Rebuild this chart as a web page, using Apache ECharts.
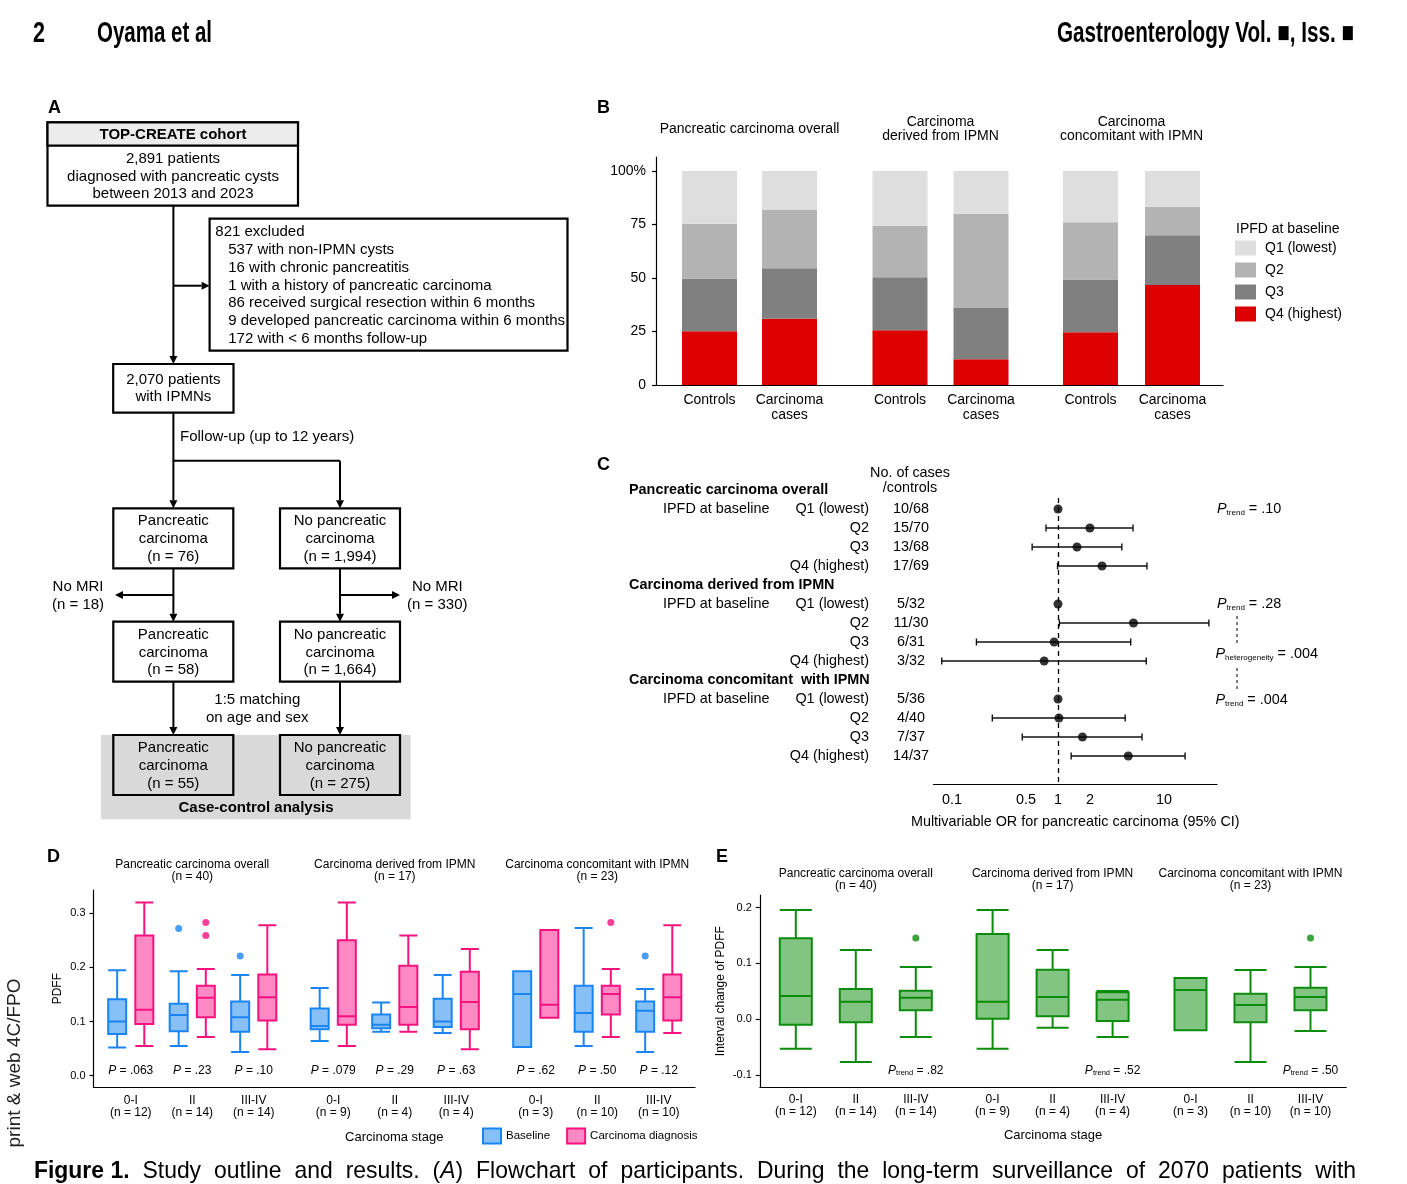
<!DOCTYPE html>
<html><head><meta charset="utf-8">
<script src="https://cdn.jsdelivr.net/npm/echarts@6/dist/echarts.min.js"></script>
<style>html,body{margin:0;padding:0;background:#fff}#c{width:1407px;height:1184px}</style>
</head><body><div id="c"></div>
<script>
// ---------------- DATA ----------------
// Panel B: share (%) of IPFD quartiles, per group: [Controls, Carcinoma cases]
const bGroups = ['Pancreatic carcinoma overall', 'Carcinoma\nderived from IPMN', 'Carcinoma\nconcomitant with IPMN'];
const bCategories = ['Controls', 'Carcinoma\ncases'];
const bQuartiles = ['Q1 (lowest)', 'Q2', 'Q3', 'Q4 (highest)'];
const bQ1 = [[24.7, 18.2], [25.6, 20.0], [24.0, 16.7]];
const bQ2 = [[25.5, 27.3], [24.0, 44.0], [26.7, 13.3]];
const bQ3 = [[24.7, 23.6], [24.8, 24.0], [24.7, 23.3]];
const bQ4 = [[25.1, 30.9], [25.6, 12.0], [24.6, 46.7]];
const bTicks = [0, 25, 50, 75, 100];

// Panel C: forest plot
const cGroups = ['Pancreatic carcinoma overall', 'Carcinoma derived from IPMN', 'Carcinoma concomitant  with IPMN'];
const cQuartiles = ['Q1 (lowest)', 'Q2', 'Q3', 'Q4 (highest)'];
const cCounts = [['10/68', '15/70', '13/68', '17/69'], ['5/32', '11/30', '6/31', '3/32'], ['5/36', '4/40', '7/37', '14/37']];
const cOR = [[1, 2.0, 1.51, 2.6], [1, 5.15, 0.92, 0.74], [1, 1.02, 1.7, 4.6]];
const cLow = [[null, 0.77, 0.57, 0.99], [null, 1.03, 0.17, 0.08], [null, 0.24, 0.46, 1.33]];
const cHigh = [[null, 5.1, 4.0, 6.9], [null, 26.5, 4.85, 6.8], [null, 4.3, 6.2, 15.8]];
const cTicks = [0.1, 0.5, 1, 2, 10];
const cPtrend = ['.10', '.28', '.004'];
const cPhet = '.004';

// Panels D/E
const deTitles = ['Pancreatic carcinoma overall', 'Carcinoma derived from IPMN', 'Carcinoma concomitant with IPMN'];
const deGroupN = [40, 17, 23];
const stageNames = ['0-I', 'II', 'III-IV'];
const stageN = [[12, 14, 14], [9, 4, 4], [3, 10, 10]];
// [min, Q1, median, Q3, max]
const dBaseline = [
  [[0.052, 0.077, 0.100, 0.141, 0.195], [0.055, 0.082, 0.112, 0.133, 0.193], [0.044, 0.081, 0.108, 0.137, 0.186]],
  [[0.064, 0.0856, 0.092, 0.124, 0.162], [0.081, 0.0875, 0.094, 0.113, 0.135], [0.079, 0.090, 0.100, 0.142, 0.186]],
  [[0.053, 0.053, 0.151, 0.193, 0.193], [0.055, 0.081, 0.116, 0.166, 0.273], [0.044, 0.081, 0.120, 0.137, 0.160]]
];
const dDiagnosis = [
  [[0.055, 0.0955, 0.122, 0.259, 0.320], [0.0715, 0.108, 0.144, 0.166, 0.197], [0.049, 0.102, 0.145, 0.187, 0.278]],
  [[0.055, 0.094, 0.110, 0.250, 0.320], [0.081, 0.094, 0.127, 0.203, 0.259], [0.049, 0.086, 0.136, 0.192, 0.234]],
  [[0.107, 0.107, 0.131, 0.269, 0.269], [0.0715, 0.113, 0.151, 0.166, 0.197], [0.079, 0.102, 0.145, 0.187, 0.278]]
];
const dBaselineOutliers = [[[1, 0.272], [2, 0.221]], [], [[2, 0.221]]];
const dDiagnosisOutliers = [[[1, 0.283], [1, 0.259]], [], [[1, 0.283]]];
const dP = [['.063', '.23', '.10'], ['.079', '.29', '.63'], ['.62', '.50', '.12']];
const dTicks = [0, 0.1, 0.2, 0.3];

const eChange = [
  [[-0.0525, -0.0095, 0.0417, 0.145, 0.1956], [-0.0763, -0.0054, 0.0316, 0.0543, 0.124], [-0.0316, 0.0161, 0.0388, 0.0513, 0.0936]],
  [[-0.0525, 0.0012, 0.0316, 0.1527, 0.1956], [-0.0149, 0.0054, 0.040, 0.0888, 0.124], [-0.0316, -0.003, 0.0352, 0.0483, 0.0507]],
  [[-0.0197, -0.0197, 0.0525, 0.074, 0.074], [-0.0763, -0.0054, 0.0256, 0.0459, 0.0883], [-0.0209, 0.0161, 0.040, 0.0566, 0.0936]]
];
const eOutliers = [[[2, 0.1455]], [], [[2, 0.1455]]];
const ePtrend = ['.82', '.52', '.50'];
const eTicks = [-0.1, 0, 0.1, 0.2];

// ---------------- STYLE / LAYOUT ----------------
const FONT = '"Liberation Sans", Arial, Helvetica, sans-serif';
const BLACK = '#000';
const QCOL = ['#dedede', '#b3b3b3', '#808080', '#dc0000'];
const BLUE = '#1a84f2', BLUE_F = '#86c0f7';
const PINK = '#f5127f', PINK_F = '#ff89c4';
const GREEN = '#0c8c0c', GREEN_F = '#82c482';
const AX = {color: BLACK, width: 1.2};
const B_MAX = 106.54, D_MIN = -0.0214, D_MAX = 0.343, E_MIN = -0.1216, E_MAX = 0.2224;
const FA = 15, FB = 14, FC = 14.4, FD = 12;

const grids = [], xAxes = [], yAxes = [], series = [], G = [];
function addGrid(g) { grids.push(Object.assign({outerBoundsMode: 'none', containLabel: false}, g)); return grids.length - 1; }
function addX(a) { xAxes.push(a); return xAxes.length - 1; }
function addY(a) { yAxes.push(a); return yAxes.length - 1; }
const noSplit = {show: false};
function hiddenY(gi, min, max) { return addY({gridIndex: gi, type: 'value', min, max, show: false, splitLine: noSplit}); }
function frameX(gi) {
  return {gridIndex: gi, type: 'value', min: 0, max: 1, axisLine: {show: true, onZero: false, lineStyle: AX},
    axisTick: {show: false}, axisLabel: {show: false}, splitLine: noSplit};
}
const mctx = document.createElement('canvas').getContext('2d');
function measure(t, size, weight) { mctx.font = (weight || 'normal') + ' ' + size + 'px ' + FONT; return mctx.measureText(t).width; }

function txt(x, y, text, o, extra) {
  G.push(Object.assign({type: 'text', x, y, silent: true, style: Object.assign({text, fill: BLACK, fontSize: FA, fontFamily: FONT,
    align: 'left', verticalAlign: 'middle'}, o || {})}, extra || {}));
}
function rect(x1, y1, x2, y2, fill, lw, stroke) {
  G.push({type: 'rect', silent: true, shape: {x: x1, y: y1, width: x2 - x1, height: y2 - y1},
    style: {fill: fill || '#fff', stroke: stroke === undefined ? BLACK : stroke, lineWidth: lw === undefined ? 2.2 : lw}});
}
function seg(pts, lw, dash) {
  G.push({type: 'polyline', silent: true, shape: {points: pts}, style: {stroke: BLACK, lineWidth: lw || 2, fill: null, lineDash: dash || null}});
}
function arrow(x1, y1, x2, y2) {
  const L = 8, W = 4; let pts, end;
  if (x1 === x2) { const d = y2 > y1 ? 1 : -1; end = [x2, y2 - d * L]; pts = [[x2, y2], [x2 - W, y2 - d * L], [x2 + W, y2 - d * L]]; }
  else { const d = x2 > x1 ? 1 : -1; end = [x2 - d * L, y2]; pts = [[x2, y2], [x2 - d * L, y2 - W], [x2 - d * L, y2 + W]]; }
  seg([[x1, y1], end]);
  G.push({type: 'polygon', silent: true, shape: {points: pts}, style: {fill: BLACK}});
}
// condensed text: fit a string into a given width by horizontal scaling
function fitTxt(x, y, text, size, weight, width, align) {
  const s = width / measure(text, size, weight);
  txt(x, y, text, {fontSize: size, fontWeight: weight, align: align || 'left'}, {scaleX: s});
}

// ---------------- HEADER / LABELS ----------------
fitTxt(33, 34, '2', 29, 'bold', 12);
fitTxt(97, 34, 'Oyama et al', 29, 'bold', 115);
fitTxt(1354, 34, 'Gastroenterology Vol. \u25A0, Iss. \u25A0', 29, 'bold', 297, 'right');
[['A', 48, 108], ['B', 597, 108], ['C', 597, 465], ['D', 47, 857], ['E', 716, 857]].forEach(l =>
  txt(l[1], l[2], l[0], {fontSize: 18, fontWeight: 'bold'}));
G.push({type: 'text', x: 15, y: 1063, rotation: Math.PI / 2, silent: true,
  style: {text: 'print & web 4C/FPO', fontSize: 19, fontFamily: FONT, fill: '#222', align: 'center', verticalAlign: 'middle'}});

// ---------------- PANEL A (flowchart) ----------------
const cxL = 173.4, cxR = 340;
rect(47.5, 122.3, 298, 205.7, '#fff');
rect(47.5, 122.3, 298, 145.7, '#ececec');
txt(173, 134.5, 'TOP-CREATE cohort', {fontWeight: 'bold', align: 'center'});
['2,891 patients', 'diagnosed with pancreatic cysts', 'between 2013 and 2023'].forEach((t, i) =>
  txt(173, 159 + i * 17.5, t, {align: 'center'}));
arrow(cxL, 205.7, cxL, 364);
arrow(cxL, 285.7, 209.6, 285.7);
rect(209.6, 218.7, 567.5, 350.7, '#fff');
txt(215.3, 232.3, '821 excluded');
['537 with non-IPMN cysts', '16 with chronic pancreatitis', '1 with a history of pancreatic carcinoma',
 '86 received surgical resection within 6 months', '9 developed pancreatic carcinoma within 6 months',
 '172 with < 6 months follow-up'].forEach((t, i) => txt(228.2, 250 + i * 17.75, t));
rect(113.2, 364, 233.5, 412.7, '#fff');
txt(173.3, 380, '2,070 patients', {align: 'center'});
txt(173.3, 397.3, 'with IPMNs', {align: 'center'});
seg([[cxL, 412.7], [cxL, 460.7], [cxR, 460.7]]);
txt(180, 437, 'Follow-up (up to 12 years)');
arrow(cxL, 460.7, cxL, 508.3);
arrow(cxR, 460.7, cxR, 508.3);
function box3(x1, y1, lines, fill) {
  rect(x1, y1, x1 + 120, y1 + 60, fill || '#fff');
  lines.forEach((t, i) => txt(x1 + 60, y1 + 13 + i * 17.8, t, {align: 'center'}));
}
box3(113.3, 508.3, ['Pancreatic', 'carcinoma', '(n = 76)']);
box3(280, 508.3, ['No pancreatic', 'carcinoma', '(n = 1,994)']);
arrow(cxL, 568.3, cxL, 621.7);
arrow(cxR, 568.3, cxR, 621.7);
arrow(cxL, 595, 115, 595);
arrow(cxR, 595, 400, 595);
txt(78, 586.7, 'No MRI', {align: 'center'}); txt(78, 605, '(n = 18)', {align: 'center'});
txt(437.3, 586.7, 'No MRI', {align: 'center'}); txt(437.3, 605, '(n = 330)', {align: 'center'});
box3(113.3, 621.7, ['Pancreatic', 'carcinoma', '(n = 58)']);
box3(280, 621.7, ['No pancreatic', 'carcinoma', '(n = 1,664)']);
txt(257.3, 700, '1:5 matching', {align: 'center'});
txt(257.3, 717.7, 'on age and sex', {align: 'center'});
arrow(cxL, 681.7, cxL, 735);
arrow(cxR, 681.7, cxR, 735);
rect(101, 735, 410.7, 819.3, '#d9d9d9', 0, null);
box3(113.3, 735, ['Pancreatic', 'carcinoma', '(n = 55)'], '#d9d9d9');
box3(280, 735, ['No pancreatic', 'carcinoma', '(n = 275)'], '#d9d9d9');
txt(256, 807.7, 'Case-control analysis', {align: 'center', fontWeight: 'bold'});

// ---------------- PANEL B (stacked bars) ----------------
const gB0 = addGrid({left: 656, top: 157, width: 567, height: 228});
addX(frameX(gB0));
addY({gridIndex: gB0, type: 'value', min: 0, max: B_MAX, axisLine: {show: true, onZero: false, lineStyle: AX},
  axisTick: {show: true, length: 4, customValues: bTicks, lineStyle: AX},
  axisLabel: {customValues: bTicks, formatter: v => (v === 100 ? '100%' : String(v)), fontSize: FB, color: BLACK, margin: 10},
  splitLine: noSplit});
const bLeft = [669.5, 859.5, 1049.5], bWidth = [160, 162, 164];
const bArrays = [bQ1, bQ2, bQ3, bQ4];
bGroups.forEach((name, gi) => {
  const g = addGrid({left: bLeft[gi], top: 157, width: bWidth[gi], height: 228});
  const xi = addX({gridIndex: g, type: 'category', data: bCategories, axisLine: {show: false, onZero: false}, axisTick: {show: false},
    axisLabel: {interval: 0, fontSize: FB, lineHeight: 14.5, color: BLACK, margin: 8}, splitLine: noSplit});
  const yi = hiddenY(g, 0, B_MAX);
  [3, 2, 1, 0].forEach(q => series.push({type: 'bar', name: bQuartiles[q], xAxisIndex: xi, yAxisIndex: yi, stack: 's' + gi,
    barWidth: 55, data: bArrays[q][gi], itemStyle: {color: QCOL[q]}, silent: true}));
  const lines = name.split('\n');
  const cx = bLeft[gi] + bWidth[gi] / 2;
  if (lines.length === 1) txt(cx, 129, lines[0], {align: 'center', fontSize: FB});
  else lines.forEach((t, i) => txt(cx, 122 + i * 14, t, {align: 'center', fontSize: FB}));
});
txt(1236, 229, 'IPFD at baseline', {fontSize: FB});

// ---------------- PANEL C (forest) ----------------
const rows = [], rowHeader = [], rowIPFD = [], rowQ = [], rowCount = [];
cGroups.forEach((gname, gi) => {
  rows.push('h' + gi); rowHeader.push(gname); rowIPFD.push(''); rowQ.push(''); rowCount.push('');
  cQuartiles.forEach((q, qi) => {
    rows.push('g' + gi + 'q' + qi); rowHeader.push(''); rowIPFD.push(qi === 0 ? 'IPFD at baseline' : '');
    rowQ.push(q); rowCount.push(cCounts[gi][qi]);
  });
});
rows.push('end'); rowHeader.push(''); rowIPFD.push(''); rowQ.push(''); rowCount.push('');
const gC = addGrid({left: 933.5, top: 480.5, width: 283.5, height: 304});
const xC = addX({gridIndex: gC, type: 'log', logBase: 10, min: 0.0669, max: 31.6,
  axisLine: {show: true, onZero: false, lineStyle: AX}, axisTick: {show: false}, minorTick: {show: false},
  axisLabel: {customValues: cTicks, formatter: v => String(+(+v).toPrecision(3)), fontSize: FC, color: BLACK, margin: 9},
  splitLine: noSplit, minorSplitLine: {show: false},
  name: 'Multivariable OR for pancreatic carcinoma (95% CI)', nameLocation: 'middle', nameGap: 31,
  nameTextStyle: {fontSize: FC, color: BLACK}});
function cY(margin, align, arr, extra) {
  return addY({gridIndex: gC, type: 'category', data: rows, inverse: true, position: 'left',
    axisLine: {show: false}, axisTick: {show: false}, splitLine: noSplit,
    axisLabel: Object.assign({interval: 0, margin, align, fontSize: FC, color: BLACK, formatter: (v, i) => arr[i]}, extra || {})});
}
const yC = cY(64.5, 'right', rowQ);
cY(22.5, 'center', rowCount);
cY(270.5, 'left', rowIPFD);
cY(304.5, 'left', rowHeader, {fontWeight: 'bold'});
const ciData = [], orData = [];
cGroups.forEach((g, gi) => cQuartiles.forEach((q, qi) => {
  const r = 'g' + gi + 'q' + qi;
  orData.push([cOR[gi][qi], r]);
  if (cLow[gi][qi] != null) ciData.push([cLow[gi][qi], cHigh[gi][qi], r]);
}));
series.push({type: 'custom', xAxisIndex: xC, yAxisIndex: yC, data: ciData, encode: {x: [0, 1], y: 2}, silent: true, z: 2,
  renderItem(params, api) {
    const p1 = api.coord([api.value(0), api.value(2)]);
    const p2 = api.coord([api.value(1), api.value(2)]);
    const y = p1[1], c = 3.5, st = {stroke: '#111', lineWidth: 1.4};
    return {type: 'group', children: [
      {type: 'line', shape: {x1: p1[0], y1: y, x2: p2[0], y2: y}, style: st},
      {type: 'line', shape: {x1: p1[0], y1: y - c, x2: p1[0], y2: y + c}, style: st},
      {type: 'line', shape: {x1: p2[0], y1: y - c, x2: p2[0], y2: y + c}, style: st}]};
  }});
series.push({type: 'scatter', xAxisIndex: xC, yAxisIndex: yC, data: orData, symbolSize: 9, itemStyle: {color: BLACK}, z: 3, silent: true,
  markLine: {silent: true, symbol: 'none', label: {show: false}, animation: false,
    lineStyle: {type: [5, 4], color: BLACK, width: 1.3},
    data: [[{xAxis: 1, y: 498}, {xAxis: 1, y: 785}]]}});
txt(910, 473, 'No. of cases', {align: 'center', fontSize: FC});
txt(910, 488, '/controls', {align: 'center', fontSize: FC});
const pRich = {i: {fontStyle: 'italic', fontSize: FC, fontFamily: FONT, lineHeight: 15},
  s: {fontSize: 8, fontFamily: FONT, verticalAlign: 'bottom', lineHeight: 7},
  t: {fontSize: FC, fontFamily: FONT, lineHeight: 15}};
txt(1217, 509, '{i|P}{s|trend}{t| = ' + cPtrend[0] + '}', {rich: pRich});
txt(1217, 604, '{i|P}{s|trend}{t| = ' + cPtrend[1] + '}', {rich: pRich});
txt(1215.5, 654, '{i|P}{s|heterogeneity}{t| = ' + cPhet + '}', {rich: pRich});
txt(1215.5, 700, '{i|P}{s|trend}{t| = ' + cPtrend[2] + '}', {rich: pRich});
seg([[1237, 616], [1237, 643]], 1, [3, 3]);
seg([[1237, 668], [1237, 689]], 1, [3, 3]);

// ---------------- PANEL D (boxplots, PDFF) ----------------
const gD0 = addGrid({left: 93.5, top: 890, width: 601.5, height: 197.3});
function frameY(gi, min, max, ticks, name, gap) {
  return addY({gridIndex: gi, type: 'value', min, max, axisLine: {show: true, onZero: false, lineStyle: AX},
    axisTick: {show: true, length: 4, customValues: ticks, lineStyle: AX},
    axisLabel: {customValues: ticks, formatter: v => (+v).toFixed(1), fontSize: 11, color: BLACK, margin: 8},
    splitLine: noSplit, name, nameLocation: 'middle', nameGap: gap, nameRotate: 90, nameTextStyle: {fontSize: FD, color: BLACK}});
}
addX(Object.assign(frameX(gD0), {name: 'Carcinoma stage', nameLocation: 'middle', nameGap: 44, nameTextStyle: {fontSize: 13, color: BLACK}}));
frameY(gD0, D_MIN, D_MAX, dTicks, 'PDFF', 30);
const dLeft = [100, 302.5, 505], dW = 184.5;
const smallRich = {i: {fontStyle: 'italic', fontSize: FD, fontFamily: FONT, lineHeight: 13},
  s: {fontSize: 7.5, fontFamily: FONT, verticalAlign: 'bottom', lineHeight: 6.5},
  t: {fontSize: FD, fontFamily: FONT, lineHeight: 13}};
function stageAxis(g, gi, margin) {
  return addX({gridIndex: g, type: 'category', data: stageNames, position: 'bottom', axisLine: {show: false, onZero: false},
    axisTick: {show: false}, splitLine: noSplit,
    axisLabel: {interval: 0, fontSize: FD, lineHeight: 12, color: BLACK, margin,
      formatter: (v, i) => v + '\n(n = ' + stageN[gi][i] + ')'}});
}
function pAxis(g, offset, fmt) {
  return addX({gridIndex: g, type: 'category', data: stageNames, position: 'bottom', offset, axisLine: {show: false, onZero: false},
    axisTick: {show: false}, splitLine: noSplit,
    axisLabel: {interval: 0, fontSize: FD, color: BLACK, margin: 0, formatter: fmt, rich: smallRich}});
}
deTitles.forEach((title, gi) => {
  const g = addGrid({left: dLeft[gi], top: 890, width: dW, height: 197.3});
  const xi = stageAxis(g, gi, 7);
  pAxis(g, -23, (v, i) => '{i|P}{t| = ' + dP[gi][i] + '}');
  const yi = hiddenY(g, D_MIN, D_MAX);
  const band = dW / stageNames.length;
  const off = 0.2875 * (band * 0.8 - 2);
  series.push({type: 'boxplot', name: 'Baseline', xAxisIndex: xi, yAxisIndex: yi, data: dBaseline[gi], boxWidth: [18, 18],
    itemStyle: {color: BLUE_F, borderColor: BLUE, borderWidth: 2}, silent: true});
  series.push({type: 'boxplot', name: 'Carcinoma diagnosis', xAxisIndex: xi, yAxisIndex: yi, data: dDiagnosis[gi], boxWidth: [18, 18],
    itemStyle: {color: PINK_F, borderColor: PINK, borderWidth: 2}, silent: true});
  series.push({type: 'scatter', name: 'Baseline outliers', xAxisIndex: xi, yAxisIndex: yi, data: dBaselineOutliers[gi], symbolSize: 7,
    symbolOffset: [-off, 0], itemStyle: {color: BLUE}, silent: true});
  series.push({type: 'scatter', name: 'Diagnosis outliers', xAxisIndex: xi, yAxisIndex: yi, data: dDiagnosisOutliers[gi], symbolSize: 7,
    symbolOffset: [off, 0], itemStyle: {color: PINK}, silent: true});
  const cx = dLeft[gi] + dW / 2;
  txt(cx, 864.3, title, {align: 'center', fontSize: FD});
  txt(cx, 876.7, '(n = ' + deGroupN[gi] + ')', {align: 'center', fontSize: FD});
});

// ---------------- PANEL E (boxplots, interval change) ----------------
const gE0 = addGrid({left: 759.8, top: 895, width: 586.5, height: 192.3});
addX(Object.assign(frameX(gE0), {name: 'Carcinoma stage', nameLocation: 'middle', nameGap: 42, nameTextStyle: {fontSize: 13, color: BLACK}}));
frameY(gE0, E_MIN, E_MAX, eTicks, 'Interval change of PDFF', 33);
const eLeft = [765.8, 962.6, 1160.5], eW = 180;
deTitles.forEach((title, gi) => {
  const g = addGrid({left: eLeft[gi], top: 895, width: eW, height: 192.3});
  const xi = stageAxis(g, gi, 6);
  pAxis(g, -23, (v, i) => (i === 2 ? '{i|P}{s|trend}{t| = ' + ePtrend[gi] + '}' : ''));
  const yi = hiddenY(g, E_MIN, E_MAX);
  series.push({type: 'boxplot', name: 'Interval change', xAxisIndex: xi, yAxisIndex: yi, data: eChange[gi], boxWidth: [32, 32],
    itemStyle: {color: GREEN_F, borderColor: GREEN, borderWidth: 2}, silent: true});
  series.push({type: 'scatter', name: 'Change outliers', xAxisIndex: xi, yAxisIndex: yi, data: eOutliers[gi], symbolSize: 7,
    itemStyle: {color: GREEN}, silent: true});
  const cx = eLeft[gi] + eW / 2;
  txt(cx, 874, title, {align: 'center', fontSize: FD});
  txt(cx, 886, '(n = ' + deGroupN[gi] + ')', {align: 'center', fontSize: FD});
});

// ---------------- CAPTION (justified line) ----------------
(function () {
  const size = 24, sx = 0.955, x0 = 34, x1 = 1356, y = 1171;
  const toks = ['Figure 1.', 'Study', 'outline', 'and', 'results.', '(A)', 'Flowchart', 'of', 'participants.', 'During', 'the',
    'long-term', 'surveillance', 'of', '2070', 'patients', 'with'];
  const widths = toks.map((t, i) => measure(t, size, i === 0 ? 'bold' : 'normal') * sx);
  const total = widths.reduce((a, b) => a + b, 0);
  const gap = (x1 - x0 - total) / (toks.length - 1);
  let x = x0;
  toks.forEach((t, i) => {
    const o = {fontSize: size, fontWeight: i === 0 ? 'bold' : 'normal'};
    if (t === '(A)') {
      o.rich = {a: {fontStyle: 'italic', fontSize: size, fontFamily: FONT}, n: {fontSize: size, fontFamily: FONT}};
      txt(x, y, '{n|(}{a|A}{n|)}', o, {scaleX: sx});
    } else txt(x, y, t, o, {scaleX: sx});
    x += widths[i] + gap;
  });
})();

// ---------------- CHART ----------------
const chart = echarts.init(document.getElementById('c'), null, {renderer: 'canvas', width: 1407, height: 1184});
chart.setOption({
  animation: false,
  backgroundColor: '#fff',
  textStyle: {fontFamily: FONT, color: BLACK},
  grid: grids, xAxis: xAxes, yAxis: yAxes, series,
  legend: [
    {data: bQuartiles.slice(), orient: 'vertical', left: 1230, top: 235.5, icon: 'rect', itemWidth: 21, itemHeight: 15, itemGap: 7,
      selectedMode: false, textStyle: {fontSize: FB, color: BLACK, padding: [0, 0, 0, 4]}},
    {data: [{name: 'Baseline', itemStyle: {color: BLUE_F, borderColor: BLUE, borderWidth: 2}},
            {name: 'Carcinoma diagnosis', itemStyle: {color: PINK_F, borderColor: PINK, borderWidth: 2}}],
      orient: 'horizontal', left: 477, top: 1122.5, icon: 'rect', itemWidth: 18, itemHeight: 15,
      itemGap: 16, selectedMode: false, textStyle: {fontSize: 11.5, color: BLACK}}
  ],
  graphic: {elements: G}
});
</script></body></html>
